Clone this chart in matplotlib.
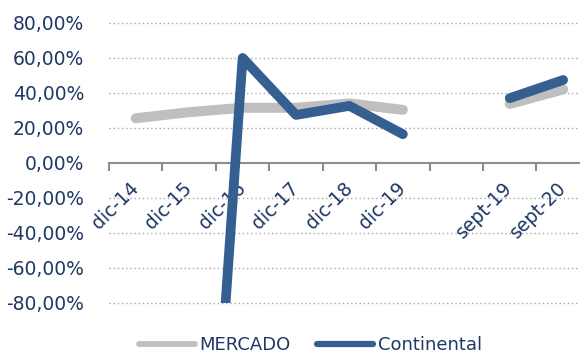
import numpy as np
import matplotlib
matplotlib.use("Agg")
import matplotlib.pyplot as plt
from matplotlib.ticker import FuncFormatter, FixedLocator

categories = ["dic-14", "dic-15", "dic-16", "dic-17", "dic-18", "dic-19", "", "sept-19", "sept-20"]
mercado = [25.5, 29.0, 31.5, 31.5, 34.0, 30.3, np.nan, 33.7, 42.0]
continental = [np.nan, -380.0, 60.0, 27.4, 32.6, 16.4, np.nan, 37.0, 47.4]

text_color = "#1F3864"
blue = "#365F91"
gray = "#BFBFBF"

fig = plt.figure(figsize=(5.8, 3.57), dpi=100)
ax = fig.add_axes([0.188, 0.152, 0.829, 0.7836])

x = np.arange(len(categories))
ax.plot(x, mercado, color=gray, lw=7.2, solid_capstyle="round", solid_joinstyle="round", zorder=3)
ax.plot(x, continental, color=blue, lw=7.0, solid_capstyle="round", solid_joinstyle="round", zorder=4)

ax.set_xlim(-0.5, len(categories) - 0.5)
ax.set_ylim(-80, 80)
ax.set_yticks(np.arange(-80, 81, 20))
ax.yaxis.set_major_formatter(FuncFormatter(lambda v, p: f"{v:.2f}".replace(".", ",") + "%"))
ax.tick_params(axis="y", length=0, pad=18, labelsize=13.5, labelcolor=text_color)

for v in np.arange(-80, 81, 20):
    if v != 0:
        ax.axhline(v, color="#A6A6A6", lw=1.0, ls=(0, (1, 2)), zorder=1, clip_on=False)

for s in ["top", "right", "left"]:
    ax.spines[s].set_visible(False)
ax.spines["bottom"].set_position(("data", 0))
ax.spines["bottom"].set_color("#8C8C8C")
ax.spines["bottom"].set_linewidth(1.5)

ax.set_xticks(x)
ax.set_xticklabels(categories, rotation=45, ha="right", va="center", rotation_mode="anchor")
ax.xaxis.set_minor_locator(FixedLocator(np.arange(-0.5, len(categories), 1.0)))
ax.tick_params(axis="x", which="major", length=0, pad=16, labelsize=13.5, labelcolor=text_color)
ax.tick_params(axis="x", which="minor", length=6, width=1.5, color="#8C8C8C", direction="out")

h1, = ax.plot([], [], color=gray, lw=4.2, solid_capstyle="round")
h2, = ax.plot([], [], color=blue, lw=4.5, solid_capstyle="round")
leg = fig.legend([h1, h2], ["MERCADO", "Continental"], loc="center", bbox_to_anchor=(0.535, 0.034),
                 ncol=2, frameon=False, fontsize=13, handlelength=3.1, handletextpad=0.25,
                 columnspacing=1.5, borderpad=0)
for t in leg.get_texts():
    t.set_color(text_color)

fig.savefig("out.png", dpi=100)
